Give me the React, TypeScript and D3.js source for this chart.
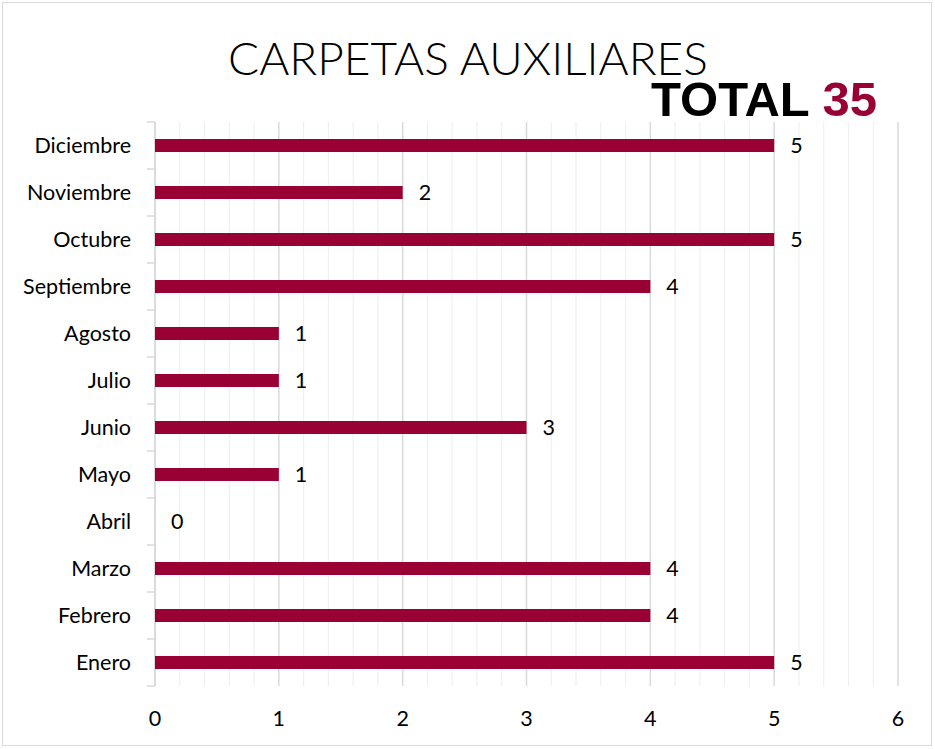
import React from "react";
import * as d3 from "d3";

const months = ["Diciembre","Noviembre","Octubre","Septiembre","Agosto","Julio","Junio","Mayo","Abril","Marzo","Febrero","Enero"];
const values = [5,2,5,4,1,1,3,1,0,4,4,5];
const xTicks = [0,1,2,3,4,5,6];
const titleText = "CARPETAS AUXILIARES";
const totalLabel = "TOTAL";
const totalValue = "35";

const W = 935, H = 749;
const left = 155, right = 898, top = 122, bottom = 686;
const barColor = "#990033";

export default function App() {
  const x = d3.scaleLinear().domain([0, 6]).range([left, right]);
  const y = d3.scaleBand().domain(months).range([top, bottom]);
  const minor = d3.range(0, 30 + 1).map(i => i / 5);
  const barH = 13;
  const font = "Lato, 'Open Sans', sans-serif";
  return (
    <svg width={W} height={H} style={{ position: "absolute", left: 0, top: 0, background: "#fff" }}>
      <rect x={2.5} y={2.5} width={929} height={743} fill="#fff" stroke="#D9D9D9" strokeWidth={1} />
      {minor.map((v, i) => (
        <line key={"m" + i} x1={x(v)} x2={x(v)} y1={top} y2={bottom}
          stroke={i % 5 === 0 ? "#D9D9D9" : "#F0F0F0"} strokeWidth={i % 5 === 0 ? 1.5 : 1.2} />
      ))}
      <line x1={left} x2={left} y1={top} y2={bottom} stroke="#D9D9D9" strokeWidth={1.5} />
      {d3.range(months.length + 1).map(i => {
        const yy = top + i * y.step();
        return <line key={"t" + i} x1={left - 8} x2={left} y1={yy} y2={yy} stroke="#D9D9D9" strokeWidth={1.5} />;
      })}
      {months.map((m, i) => {
        const cy = (y(m) as number) + y.bandwidth() / 2;
        return (
          <g key={m}>
            {values[i] > 0 && (
              <rect x={x(0)} y={cy - barH / 2} width={x(values[i]) - x(0)} height={barH} fill={barColor} />
            )}
            <text x={131} y={cy} dy="0.36em" textAnchor="end" fontFamily={font} fontSize={21.5} fill="#000">{m}</text>
            <text x={x(values[i]) + 16} y={cy} dy="0.36em" fontFamily={font} fontSize={21.5} fill="#000">{values[i]}</text>
          </g>
        );
      })}
      {xTicks.map(t => (
        <text key={"x" + t} x={x(t)} y={718} dy="0.36em" textAnchor="middle" fontFamily={font} fontSize={21.5} fill="#000">{t}</text>
      ))}
      <text x={468} y={75} textAnchor="middle" fontFamily={font} fontWeight={300} fontSize={46} fill="#000">{titleText}</text>
      <text x={877} y={116} textAnchor="end" fontFamily="'Liberation Sans', Arial, sans-serif" fontWeight={700} fontSize={49}>
        <tspan fill="#000">{totalLabel} </tspan>
        <tspan fill={barColor}>{totalValue}</tspan>
      </text>
    </svg>
  );
}
